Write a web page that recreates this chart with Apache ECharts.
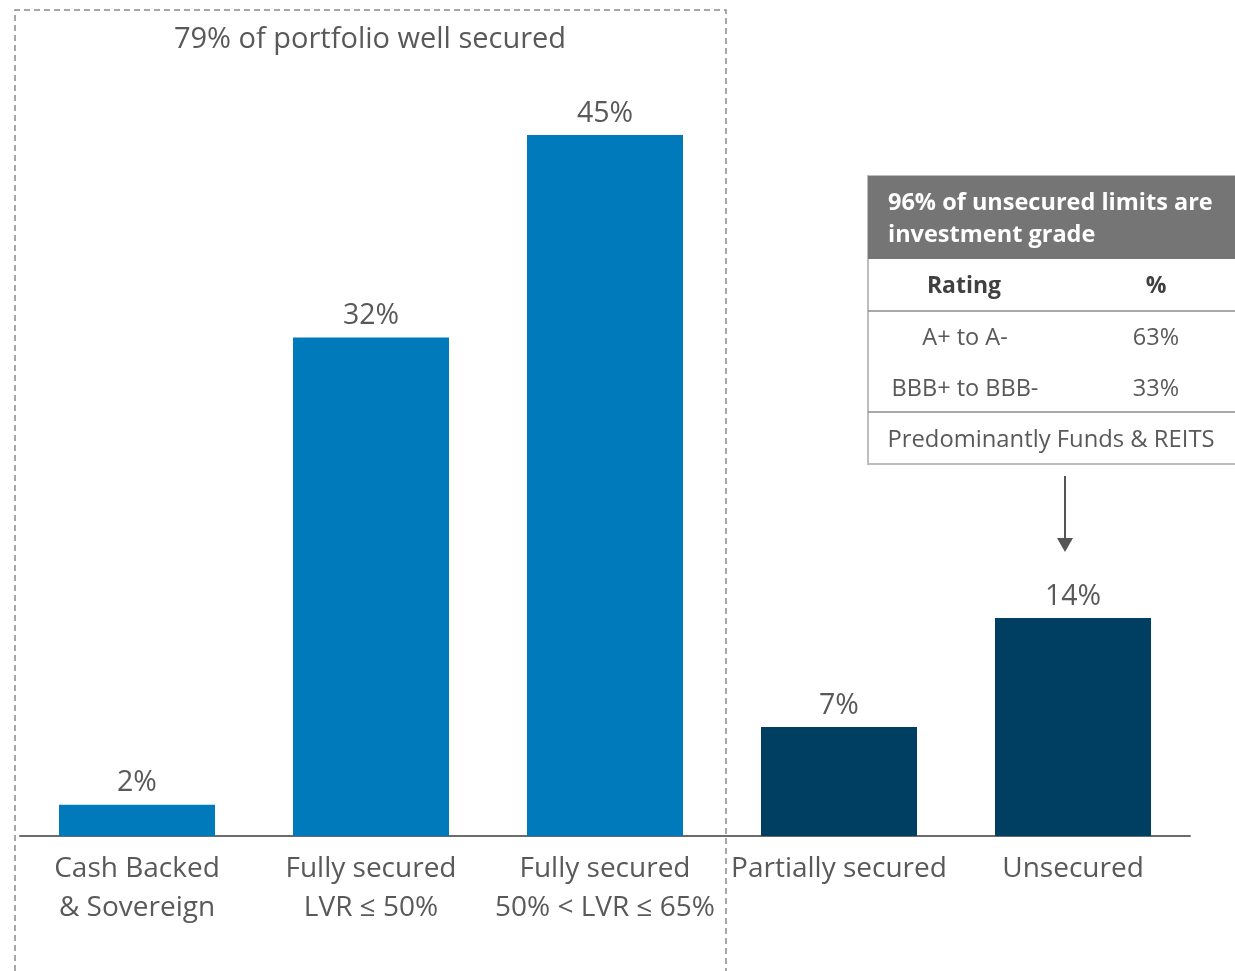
<!DOCTYPE html>
<html>
<head>
    <meta charset="UTF-8">
    <title>Portfolio security</title>
    <script type="text/javascript" src="https://cdn.jsdelivr.net/npm/echarts@6/dist/echarts.min.js"></script>
</head>
<body style="margin: 0;overflow: hidden;background: #fff;">
<div id="chart" style="width: 1235px;height: 971px;"></div>
<script type="text/javascript">
    // chart data
    var categories = [
        "Cash Backed\n& Sovereign",
        "Fully secured\nLVR \u2264 50%",
        "Fully secured\n50% < LVR \u2264 65%",
        "Partially secured",
        "Unsecured"
    ];
    var shares = [2, 32, 45, 7, 14];
    var wellSecured = [true, true, true, false, false];

    var boxTitle = "79% of portfolio well secured";
    var tableTitle = "96% of unsecured limits are\ninvestment grade";
    var tableHeader = ["Rating", "%"];
    var ratingNames = ["A+ to A-", "BBB+ to BBB-"];
    var ratingShares = ["63%", "33%"];
    var tableNote = "Predominantly Funds & REITS";

    var font = "'Open Sans', 'Noto Sans', sans-serif";
    var textColor = '#595959';

    var chart = echarts.init(document.getElementById('chart'));

    var barData = shares.map(function (v, i) {
        return {
            value: v,
            itemStyle: {color: wellSecured[i] ? '#007abb' : '#003f62'}
        };
    });

    // table annotation on the right
    var tbl = {left: 868, top: 176, width: 380, headH: 83};
    var rowY = [286, 337, 388];
    var tableGraphic = [
        {
            type: 'rect', shape: {x: tbl.left, y: tbl.top, width: tbl.width, height: 288},
            style: {fill: '#fff', stroke: '#bdbdbd', lineWidth: 2}, z: 10
        },
        {
            type: 'rect', shape: {x: tbl.left, y: tbl.top, width: tbl.width, height: tbl.headH},
            style: {fill: '#757575'}, z: 11
        },
        {
            type: 'text', x: 888, y: 219, z: 12,
            style: {
                text: tableTitle, fill: '#fff', font: 'bold 23.5px ' + font,
                lineHeight: 32, verticalAlign: 'middle'
            }
        },
        {
            type: 'text', x: 964, y: rowY[0], z: 12,
            style: {text: tableHeader[0], fill: '#404040', font: 'bold 23px ' + font, align: 'center', verticalAlign: 'middle'}
        },
        {
            type: 'text', x: 1156, y: rowY[0], z: 12,
            style: {text: tableHeader[1], fill: '#404040', font: 'bold 23px ' + font, align: 'center', verticalAlign: 'middle'}
        },
        {
            type: 'line', shape: {x1: tbl.left, y1: 311, x2: 1235, y2: 311},
            style: {stroke: '#8c8c8c', lineWidth: 1.5}, z: 12
        },
        {
            type: 'line', shape: {x1: tbl.left, y1: 412, x2: 1235, y2: 412},
            style: {stroke: '#8c8c8c', lineWidth: 1.5}, z: 12
        },
        {
            type: 'text', x: 1051, y: 440, z: 12,
            style: {text: tableNote, fill: textColor, font: '23.8px ' + font, align: 'center', verticalAlign: 'middle'}
        }
    ];
    ratingNames.forEach(function (name, i) {
        tableGraphic.push({
            type: 'text', x: 965, y: rowY[i + 1] + 1, z: 12,
            style: {text: name, fill: textColor, font: '23.5px ' + font, align: 'center', verticalAlign: 'middle'}
        });
        tableGraphic.push({
            type: 'text', x: 1156, y: rowY[i + 1] + 1, z: 12,
            style: {text: ratingShares[i], fill: textColor, font: '23.5px ' + font, align: 'center', verticalAlign: 'middle'}
        });
    });

    var option = {
        backgroundColor: '#fff',
        animation: false,
        grid: {left: 20, right: 45, top: 57, bottom: 135},
        xAxis: {
            type: 'category',
            data: categories,
            axisLine: {lineStyle: {color: '#6b6b6b', width: 2}},
            axisTick: {show: false},
            axisLabel: {
                color: textColor, fontSize: 28, fontFamily: font,
                lineHeight: 39, margin: 14, interval: 0
            }
        },
        yAxis: {
            type: 'value', min: 0, max: 50,
            show: false, splitLine: {show: false}
        },
        series: [{
            type: 'bar',
            barWidth: 156,
            data: barData,
            label: {
                show: true, position: 'top', distance: 7,
                formatter: '{c}%', color: textColor,
                fontSize: 28.5, fontFamily: font
            }
        }],
        graphic: [
            // dashed frame around the well secured group
            {
                type: 'polyline',
                shape: {points: [[15, 971], [15, 10], [726, 10], [726, 971]]},
                style: {stroke: '#8a8a8a', lineWidth: 1.5, lineDash: [6, 4], fill: null}
            },
            {
                type: 'text', x: 370, y: 40,
                style: {text: boxTitle, fill: textColor, font: '29px ' + font, align: 'center', verticalAlign: 'middle'}
            },
            // arrow pointing to the unsecured bar
            {
                type: 'line', shape: {x1: 1065, y1: 476, x2: 1065, y2: 540},
                style: {stroke: '#555', lineWidth: 2}
            },
            {
                type: 'polygon', shape: {points: [[1057, 538], [1073, 538], [1065, 552]]},
                style: {fill: '#555'}
            }
        ].concat(tableGraphic)
    };
    chart.setOption(option);
</script>
</body>
</html>
